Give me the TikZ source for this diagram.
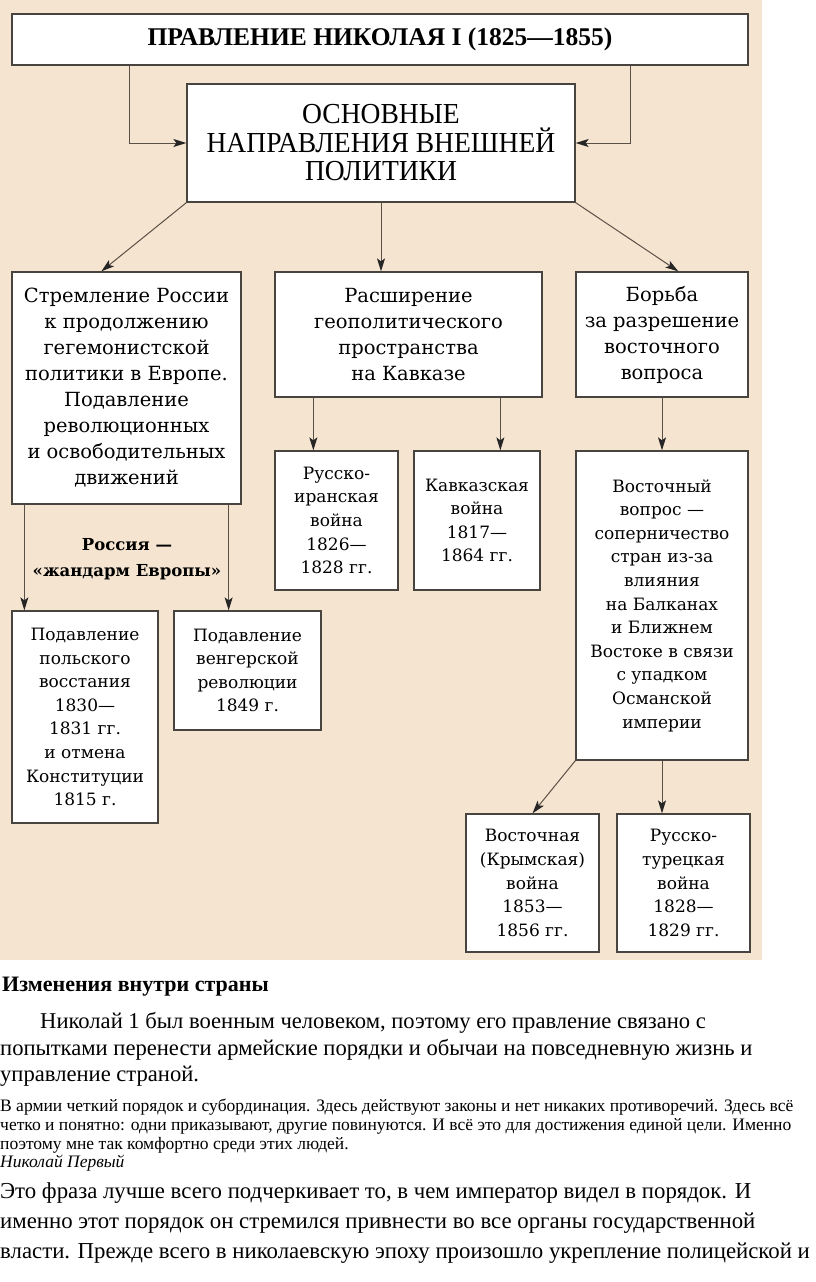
\documentclass[tikz,border=0pt]{standalone}
\usepackage{fontspec}
\setmainfont{Liberation Serif}
\newfontfamily\boxfont{DejaVu Serif}
\newfontfamily\condfont[FakeStretch=0.95]{Liberation Serif}
\usetikzlibrary{arrows.meta, calc}
\definecolor{paper}{RGB}{245,229,208}
\definecolor{frame}{RGB}{72,68,64}
\definecolor{wire}{RGB}{90,80,70}

\begin{document}
\begin{tikzpicture}[x=1pt, y=-1pt,
  box/.style={draw=frame, fill=white, line width=1.3pt, align=center, inner sep=0pt},
  bigtxt/.style={font=\boxfont\fontsize{19.5}{26}\selectfont},
  smalltxt/.style={font=\boxfont\fontsize{17}{23.6}\selectfont},
  arr/.style={draw=wire, line width=1pt, -{Stealth[length=13pt, width=8pt, inset=3pt, color=black!85]}},
  txtline/.style={anchor=base west, inner sep=0pt}
]
  % page and beige panel
  \useasboundingbox (0,0) rectangle (816,1282);
  \fill[white] (0,0) rectangle (816,1282);
  \fill[paper] (0,0) rectangle (762,960);

  % top
  \node[box, minimum width=736, minimum height=51, font=\bfseries\fontsize{25.5}{30}\selectfont] (head) at (380,39.5) {ПРАВЛЕНИЕ НИКОЛАЯ I (1825—1855)};
  \node[box, minimum width=388, minimum height=118, font=\condfont\fontsize{29}{28.5}\selectfont] (dir) at (381,143) {ОСНОВНЫЕ\\НАПРАВЛЕНИЯ ВНЕШНЕЙ\\ПОЛИТИКИ};

  % three directions
  \node[box, bigtxt, minimum width=229, minimum height=232] (eur) at (126.5,388) {Стремление России\\к продолжению\\гегемонистской\\политики в Европе.\\Подавление\\революционных\\и освободительных\\движений};
  \node[box, bigtxt, minimum width=267, minimum height=125] (cauc) at (408.5,334.5) {Расширение\\геополитического\\пространства\\на Кавказе};
  \node[box, bigtxt, minimum width=172, minimum height=125] (east) at (662,334.5) {Борьба\\за разрешение\\восточного\\вопроса};

  % lower boxes
  \node[box, smalltxt, minimum width=123, minimum height=139] (iran) at (336.5,520.5) {Русско-\\иранская\\война\\1826—\\1828 гг.};
  \node[box, smalltxt, minimum width=126, minimum height=139] (kavw) at (477,520.5) {Кавказская\\война\\1817—\\1864 гг.};
  \node[box, smalltxt, minimum width=172, minimum height=309] (eastq) at (662,605.5) {Восточный\\вопрос —\\соперничество\\стран из-за\\влияния\\на Балканах\\и Ближнем\\Востоке в связи\\с упадком\\Османской\\империи};
  \node[box, smalltxt, minimum width=146, minimum height=212] (pol) at (85,717) {Подавление\\польского\\восстания\\1830—\\1831 гг.\\и отмена\\Конституции\\1815 г.};
  \node[box, smalltxt, minimum width=147, minimum height=119] (hung) at (247.5,670.5) {Подавление\\венгерской\\революции\\1849 г.};
  \node[box, smalltxt, minimum width=133, minimum height=138] (crim) at (532.5,883) {Восточная\\(Крымская)\\война\\1853—\\1856 гг.};
  \node[box, smalltxt, minimum width=133, minimum height=138] (turk) at (683.5,883) {Русско-\\турецкая\\война\\1828—\\1829 гг.};

  \node[align=center, font=\boxfont\bfseries\fontsize{16.5}{26}\selectfont] (gend) at (127,559) {Россия —\\«жандарм Европы»};

  % connectors
  \coordinate (hl) at ([xshift=118]head.south west);
  \coordinate (hr) at ([xshift=-118]head.south east);
  \draw[arr] (hl) |- (dir.west);
  \draw[arr] (hr) |- (dir.east);
  \draw[arr] (dir.south west) -- ([xshift=90]eur.north west);
  \draw[arr] (dir.south) -- (dir.south |- cauc.north);
  \draw[arr] (dir.south east) -- ([xshift=103]east.north west);

  \coordinate (el) at ([xshift=13]eur.south west);
  \coordinate (er) at ([xshift=-13]eur.south east);
  \draw[arr] (el) -- (el |- pol.north);
  \draw[arr] (er) -- (er |- hung.north);

  \coordinate (cl) at ([xshift=39]cauc.south west);
  \coordinate (cr) at ([xshift=226]cauc.south west);
  \draw[arr] (cl) -- (cl |- iran.north);
  \draw[arr] (cr) -- (cr |- kavw.north);

  \draw[arr] (east.south) -- (eastq.north);
  \draw[arr] (eastq.south west) -- (crim.north);
  \draw[arr] (eastq.south) -- (eastq.south |- turk.north);

  % text below the scheme
  \node[txtline, font=\bfseries\fontsize{22}{24}\selectfont] (hd) at (2,991) {Изменения внутри страны};
  \node[txtline, font=\fontsize{22.6}{27}\selectfont] (p1) at (40,1028) {Николай 1 был военным человеком, поэтому его правление связано с};
  \node[txtline, font=\fontsize{22.6}{27}\selectfont] (p2) at (0,1055) {попытками перенести армейские порядки и обычаи на повседневную жизнь и};
  \node[txtline, font=\fontsize{22.6}{27}\selectfont] (p3) at (0,1081) {управление страной.};
  \node[txtline, font=\fontsize{17.5}{19}\selectfont] (q1) at (0,1111) {В армии четкий порядок и субординация. Здесь действуют законы и нет никаких противоречий. Здесь всё};
  \node[txtline, font=\fontsize{17.5}{19}\selectfont] (q2) at (0,1130) {четко и понятно: одни приказывают, другие повинуются. И всё это для достижения единой цели. Именно};
  \node[txtline, font=\fontsize{17.5}{19}\selectfont] (q3) at (0,1149) {поэтому мне так комфортно среди этих людей.};
  \node[txtline, font=\itshape\fontsize{17.5}{19}\selectfont] (qa) at (0,1167) {Николай Первый};
  \node[txtline, font=\fontsize{22.8}{30}\selectfont] (r1) at (0,1198) {Это фраза лучше всего подчеркивает то, в чем император видел в порядок. И};
  \node[txtline, font=\fontsize{22.8}{30}\selectfont] (r2) at (0,1228) {именно этот порядок он стремился привнести во все органы государственной};
  \node[txtline, font=\fontsize{22.8}{30}\selectfont] (r3) at (0,1258) {власти. Прежде всего в николаевскую эпоху произошло укрепление полицейской и};
\end{tikzpicture}
\end{document}
